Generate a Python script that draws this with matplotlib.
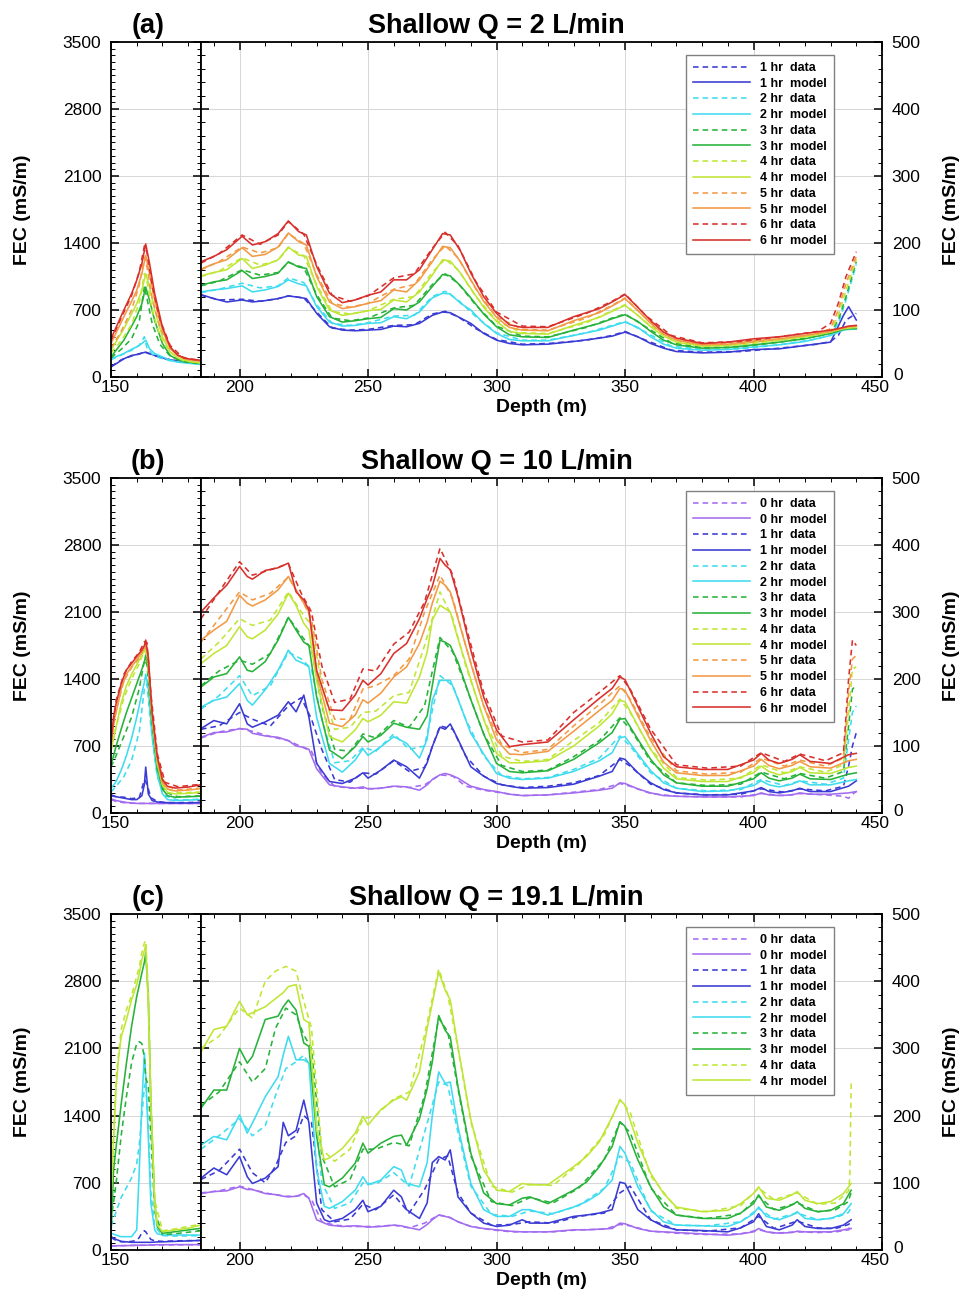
import matplotlib.pyplot as plt
from matplotlib.ticker import MultipleLocator, FixedLocator
from matplotlib.transforms import ScaledTranslation

plt.rcParams['font.family'] = ['Liberation Sans', 'DejaVu Sans']

# colour per elapsed time (hr)
hour_colors = {0: '#a36cf0', 1: '#3a3ad4', 2: '#3fdcef', 3: '#27b23a',
               4: '#bfe635', 5: '#f29a45', 6: '#d8302c'}

# ---------------- (a) Shallow Q = 2 L/min ----------------
a_hours = [1, 2, 3, 4, 5, 6]
a_depth_left = [150, 155, 158, 160, 162, 163.5, 165, 167, 170, 173, 176, 180, 185]
a_model_left = {
    1: [105, 190, 225, 235, 250, 260, 245, 225, 200, 180, 165, 155, 140],
    2: [190, 245, 290, 315, 350, 385, 295, 245, 210, 175, 155, 145, 130],
    3: [210, 385, 530, 630, 765, 940, 800, 590, 350, 225, 180, 155, 140],
    4: [280, 505, 660, 765, 905, 1080, 940, 700, 420, 260, 200, 165, 145],
    5: [350, 630, 790, 905, 1080, 1270, 1080, 800, 490, 295, 225, 180, 165],
    6: [400, 700, 870, 1010, 1185, 1390, 1185, 870, 520, 315, 225, 190, 175],
}
a_depth_left_data = [150, 154, 158, 161, 163, 164, 166, 169, 173, 178, 185]
a_data_left = {
    1: [110, 180, 220, 240, 262, 250, 235, 205, 180, 160, 142],
    2: [180, 230, 280, 330, 420, 300, 240, 200, 170, 150, 132],
    3: [200, 290, 400, 580, 950, 820, 560, 340, 220, 160, 140],
    4: [250, 380, 550, 780, 1080, 1000, 700, 430, 260, 170, 148],
    5: [300, 480, 700, 960, 1250, 1150, 820, 520, 300, 190, 165],
    6: [380, 620, 850, 1100, 1370, 1300, 950, 600, 330, 200, 172],
}
a_depth_right = [185, 190, 195, 201, 205, 210, 215, 219, 223, 226,
                 230, 235, 240, 245, 250, 255, 260, 265, 270, 275,
                 279, 282, 286, 290, 295, 300, 305, 310, 320, 330,
                 340, 345, 350, 355, 360, 365, 370, 380, 390, 400,
                 410, 420, 430, 435, 437, 440]
a_model_right = {
    1: [123, 117, 112, 115, 112, 114, 117, 121, 119, 117,
        95, 75, 70, 69, 70, 71, 76, 75, 80, 92,
        97, 96, 88, 80, 65, 55, 50, 48, 49, 53,
        58, 61, 67, 60, 50, 43, 38, 36, 37, 41,
        42, 47, 52, 92, 105, 85],
    2: [127, 130, 132, 136, 127, 130, 135, 145, 139, 136,
        105, 82, 76, 77, 80, 81, 90, 87, 97, 118,
        125, 124, 110, 100, 80, 65, 56, 54, 54, 62,
        70, 76, 82, 74, 60, 49, 43, 40, 41, 45,
        48, 53, 62, 70, 71, 72],
    3: [137, 142, 145, 159, 147, 150, 155, 172, 164, 162,
        120, 90, 82, 84, 87, 89, 102, 100, 112, 135,
        153, 151, 136, 118, 94, 75, 63, 60, 59, 70,
        80, 87, 93, 83, 68, 55, 48, 43, 44, 48,
        52, 57, 65, 71, 72, 72],
    4: [151, 156, 160, 177, 162, 167, 175, 194, 182, 180,
        135, 100, 92, 95, 99, 101, 115, 112, 127, 152,
        175, 173, 155, 132, 104, 83, 68, 65, 64, 77,
        89, 98, 107, 92, 75, 61, 52, 46, 47, 52,
        55, 60, 67, 72, 73, 74],
    5: [161, 169, 175, 193, 180, 183, 194, 215, 202, 197,
        150, 112, 102, 105, 110, 114, 130, 127, 145, 172,
        195, 193, 172, 145, 113, 89, 74, 70, 69, 84,
        96, 106, 117, 99, 80, 64, 55, 48, 49, 54,
        57, 62, 68, 73, 75, 76],
    6: [172, 180, 190, 210, 197, 202, 214, 233, 217, 212,
        165, 125, 111, 115, 122, 127, 145, 145, 160, 190,
        214, 212, 188, 155, 120, 95, 78, 74, 74, 90,
        102, 112, 123, 104, 84, 67, 58, 50, 52, 57,
        60, 65, 70, 74, 76, 77],
}
a_depth_right_data = [185, 192, 201, 208, 215, 219, 225, 230, 236, 243,
                      250, 260, 268, 275, 280, 285, 292, 300, 310, 320,
                      335, 345, 350, 358, 368, 380, 395, 410, 425, 430,
                      433, 436, 440]
a_data_right = {
    1: [122, 115, 116, 113, 117, 121, 118, 97, 73, 70,
        71, 77, 78, 94, 98, 90, 72, 56, 49, 50,
        55, 62, 68, 55, 40, 37, 38, 43, 49, 53,
        62, 85, 95],
    2: [126, 131, 140, 133, 136, 148, 141, 108, 80, 77,
        81, 91, 92, 120, 128, 115, 90, 66, 55, 55,
        66, 77, 83, 67, 46, 41, 42, 48, 57, 63,
        80, 115, 168],
    3: [136, 143, 160, 152, 156, 171, 163, 123, 88, 84,
        88, 103, 107, 138, 154, 140, 107, 76, 61, 60,
        74, 88, 94, 75, 51, 44, 45, 52, 61, 66,
        85, 120, 172],
    4: [150, 158, 178, 167, 174, 193, 181, 138, 98, 94,
        99, 116, 120, 156, 176, 160, 120, 84, 66, 65,
        81, 99, 108, 82, 56, 47, 48, 55, 63, 68,
        92, 130, 176],
    5: [160, 172, 194, 185, 193, 214, 199, 153, 110, 104,
        110, 131, 138, 175, 196, 178, 131, 90, 71, 70,
        88, 107, 118, 88, 59, 49, 50, 57, 65, 72,
        100, 140, 180],
    6: [170, 184, 212, 198, 212, 232, 213, 168, 122, 113,
        121, 148, 154, 192, 216, 196, 142, 97, 76, 75,
        95, 113, 124, 92, 62, 51, 53, 60, 68, 80,
        110, 150, 187],
}

# ---------------- (b) Shallow Q = 10 L/min ----------------
b_hours = [0, 1, 2, 3, 4, 5, 6]
b_depth_left = [150, 151, 152, 154, 156, 158, 160, 162, 163, 163.5,
                164.5, 166, 168, 170, 172, 175, 180, 185]
b_model_left = {
    0: [150, 140, 130, 120, 110, 105, 100, 100, 100, 100, 100, 100, 100, 100, 100, 100, 100, 100],
    1: [180, 175, 170, 160, 150, 140, 140, 180, 300, 480, 200, 130, 115, 110, 108, 105, 105, 110],
    2: [260, 290, 330, 450, 600, 780, 1000, 1250, 1370, 1450, 1300, 800, 400, 200, 140, 130, 135, 140],
    3: [500, 600, 700, 880, 1050, 1200, 1350, 1500, 1580, 1650, 1500, 950, 480, 250, 180, 165, 170, 175],
    4: [650, 780, 900, 1150, 1330, 1450, 1550, 1650, 1700, 1750, 1580, 990, 520, 290, 215, 200, 205, 215],
    5: [700, 950, 1050, 1300, 1450, 1530, 1600, 1680, 1730, 1780, 1600, 1020, 560, 320, 250, 230, 240, 255],
    6: [730, 1008, 1147, 1355, 1495, 1564, 1634, 1703, 1750, 1807, 1634, 1043, 591, 348, 278, 261, 271, 295],
}
b_depth_left_data = [150, 152, 155, 158, 161, 163, 164, 165.5, 168, 171, 176, 185]
b_data_left = {
    0: [140, 120, 108, 102, 100, 100, 100, 100, 100, 100, 100, 100],
    1: [190, 170, 165, 150, 160, 350, 300, 160, 120, 110, 108, 112],
    2: [220, 280, 380, 550, 850, 1300, 1350, 900, 380, 180, 135, 145],
    3: [480, 600, 800, 1000, 1300, 1600, 1550, 1050, 450, 220, 170, 180],
    4: [650, 900, 1200, 1400, 1560, 1700, 1650, 1150, 520, 260, 210, 220],
    5: [720, 1080, 1380, 1520, 1620, 1740, 1700, 1200, 580, 290, 240, 260],
    6: [760, 1180, 1450, 1580, 1680, 1790, 1780, 1250, 620, 320, 275, 300],
}
b_depth_right = [185, 190, 195, 200, 203, 205, 210, 215, 219, 222,
                 225, 227, 230, 235, 240, 245, 248, 250, 255, 260,
                 265, 270, 273, 275, 278, 280, 282, 285, 290, 295,
                 300, 305, 310, 320, 330, 340, 345, 348, 350, 355,
                 360, 365, 370, 380, 390, 400, 403, 406, 410, 415,
                 418, 422, 430, 437, 440]
b_model_right = {
    0: [113, 120, 121, 126, 125, 119, 115, 113, 108, 100,
        98, 95, 66, 42, 39, 37, 39, 36, 37, 40,
        39, 34, 42, 50, 57, 59, 57, 52, 40, 35,
        32, 28, 26, 27, 30, 34, 37, 45, 44, 36,
        30, 26, 25, 24, 24, 26, 30, 27, 26, 27,
        30, 28, 28, 30, 32],
    1: [126, 138, 133, 163, 133, 128, 136, 146, 166, 151,
        176, 143, 74, 47, 44, 52, 60, 52, 64, 79,
        69, 52, 75, 99, 128, 125, 133, 110, 69, 55,
        44, 40, 37, 38, 43, 55, 62, 82, 80, 60,
        45, 35, 30, 27, 27, 33, 38, 32, 30, 33,
        37, 32, 32, 40, 48],
    2: [158, 168, 173, 193, 168, 161, 184, 213, 243, 228,
        223, 218, 143, 74, 61, 79, 96, 86, 99, 114,
        104, 82, 110, 168, 198, 198, 198, 170, 119, 88,
        59, 52, 50, 52, 62, 78, 90, 112, 114, 88,
        63, 45, 37, 32, 33, 41, 48, 42, 39, 43,
        48, 42, 42, 48, 50],
    3: [188, 203, 208, 233, 213, 211, 226, 258, 292, 273,
        255, 250, 173, 94, 81, 99, 114, 106, 116, 134,
        128, 125, 145, 190, 258, 255, 250, 225, 169, 118,
        74, 62, 60, 63, 80, 105, 120, 140, 141, 110,
        80, 57, 45, 40, 40, 51, 60, 52, 48, 52,
        58, 51, 50, 58, 60],
    4: [223, 238, 250, 278, 263, 260, 273, 297, 328, 310,
        283, 273, 198, 114, 106, 124, 141, 136, 146, 166,
        164, 203, 240, 288, 310, 305, 300, 260, 199, 140,
        89, 75, 75, 78, 100, 130, 148, 168, 166, 130,
        95, 67, 51, 47, 47, 60, 70, 62, 57, 62,
        68, 60, 59, 68, 70],
    5: [258, 273, 286, 325, 313, 309, 318, 333, 353, 333,
        313, 300, 208, 134, 129, 146, 169, 164, 179, 203,
        218, 253, 285, 313, 346, 340, 330, 290, 223, 160,
        109, 88, 87, 92, 122, 153, 168, 186, 183, 145,
        108, 76, 60, 56, 56, 70, 80, 71, 66, 71,
        77, 69, 67, 78, 80],
    6: [300, 321, 340, 368, 353, 349, 362, 366, 373, 330,
        318, 303, 213, 154, 153, 176, 198, 191, 208, 238,
        253, 290, 320, 338, 380, 370, 363, 323, 243, 173,
        124, 99, 102, 106, 139, 171, 186, 203, 199, 159,
        119, 84, 69, 65, 65, 79, 89, 79, 74, 80,
        87, 77, 74, 87, 89],
}
b_depth_right_data = [185, 192, 200, 205, 212, 219, 224, 228, 232, 237,
                      243, 248, 253, 260, 266, 272, 278, 283, 288, 295,
                      302, 310, 320, 330, 340, 348, 352, 360, 370, 382,
                      395, 403, 412, 418, 428, 435, 437, 438.5, 440]
b_data_right = {
    0: [112, 121, 126, 122, 114, 108, 99, 92, 58, 40,
        37, 37, 36, 40, 38, 42, 57, 55, 40, 34,
        30, 26, 27, 31, 35, 44, 40, 29, 25, 24,
        24, 29, 26, 29, 27, 25, 22, 28, 32],
    1: [125, 130, 150, 140, 130, 160, 172, 140, 95, 50,
        46, 60, 58, 78, 62, 68, 130, 125, 85, 55,
        42, 38, 40, 45, 56, 80, 70, 43, 30, 27,
        28, 36, 31, 36, 33, 40, 70, 100, 120],
    2: [155, 175, 205, 175, 190, 240, 230, 215, 140, 75,
        78, 98, 92, 118, 95, 100, 205, 190, 140, 85,
        56, 51, 53, 65, 82, 115, 100, 60, 37, 33,
        35, 50, 41, 48, 43, 52, 110, 150, 160],
    3: [190, 212, 228, 222, 238, 292, 265, 245, 160, 95,
        92, 118, 112, 138, 128, 160, 262, 240, 190, 118,
        71, 62, 64, 84, 108, 142, 126, 77, 45, 41,
        43, 61, 51, 59, 52, 62, 130, 185, 190],
    4: [230, 255, 290, 280, 288, 330, 300, 280, 190, 125,
        128, 150, 152, 175, 180, 250, 330, 290, 220, 140,
        85, 77, 80, 108, 135, 170, 150, 95, 53, 49,
        52, 72, 60, 69, 61, 72, 150, 215, 218],
    5: [255, 290, 330, 318, 328, 352, 320, 290, 200, 140,
        140, 185, 190, 205, 230, 300, 355, 320, 250, 160,
        102, 90, 95, 130, 162, 190, 170, 112, 63, 58,
        61, 82, 70, 79, 70, 82, 180, 230, 235],
    6: [290, 330, 375, 355, 363, 372, 328, 300, 220, 165,
        170, 215, 212, 252, 270, 315, 395, 355, 280, 180,
        115, 106, 109, 150, 180, 205, 185, 125, 72, 67,
        70, 90, 77, 88, 78, 90, 200, 258, 250],
}

# ---------------- (c) Shallow Q = 19.1 L/min ----------------
c_hours = [0, 1, 2, 3, 4]
c_depth_left = [150, 151, 152, 153, 154, 156, 158, 160, 161, 162,
                163, 163.5, 164.5, 165.5, 167, 168, 170, 175, 180, 185]
c_model_left = {
    0: [40, 42, 44, 45, 45, 46, 48, 50, 50, 50, 50, 50, 52, 52, 54, 55, 55, 56, 56, 56],
    1: [140, 125, 110, 100, 90, 85, 80, 80, 80, 80, 80, 80, 80, 80, 82, 84, 85, 90, 95, 100],
    2: [174, 165, 155, 145, 139, 139, 139, 209, 834, 1530, 2050, 1807, 1182, 487, 209, 170, 156, 156, 156, 156],
    3: [150, 834, 1077, 1300, 1529, 1946, 2329, 2641, 2760, 2885, 3000, 3093, 2641, 1530, 487, 243, 174, 191, 209, 226],
    4: [500, 1150, 1700, 2016, 2224, 2398, 2607, 2763, 2880, 3024, 3120, 3180, 2572, 1530, 487, 261, 191, 209, 226, 261],
}
c_depth_left_data = [150, 152, 154, 156, 158, 160, 161, 162, 163, 163.5,
                     164.5, 165.5, 167, 170, 175, 185]
c_data_left = {
    0: [45, 44, 45, 46, 47, 48, 48, 49, 49, 50, 50, 51, 52, 53, 54, 55],
    1: [130, 100, 85, 85, 90, 100, 130, 180, 200, 190, 150, 110, 95, 90, 95, 100],
    2: [250, 400, 550, 650, 750, 900, 1100, 1400, 1700, 1750, 1300, 600, 250, 150, 145, 150],
    3: [300, 700, 1200, 1600, 1950, 2150, 2170, 2150, 2000, 1800, 1700, 1200, 400, 160, 170, 200],
    4: [600, 1800, 2300, 2500, 2650, 2850, 2950, 3100, 3200, 3220, 2700, 1600, 520, 200, 220, 270],
}
c_depth_right = [185, 190, 195, 200, 203, 205, 210, 215, 217, 219,
                 222, 225, 227, 230, 233, 235, 240, 245, 248, 250,
                 255, 260, 263, 265, 270, 273, 275, 277.5, 280, 282,
                 285, 290, 295, 300, 305, 310, 313, 320, 330, 335,
                 340, 345, 348, 350, 355, 360, 365, 370, 380, 390,
                 395, 400, 402, 405, 410, 415, 417, 420, 425, 430,
                 435, 438]
c_model_right = {
    0: [84, 87, 88, 94, 90, 90, 84, 82, 80, 79,
        80, 84, 77, 45, 40, 37, 35, 36, 35, 34,
        35, 37, 36, 34, 30, 38, 45, 52, 50, 48,
        42, 35, 32, 30, 28, 27, 27, 27, 30, 30,
        31, 32, 40, 39, 32, 28, 27, 26, 24, 22,
        24, 27, 32, 27, 25, 26, 28, 27, 27, 27,
        30, 32],
    1: [107, 122, 112, 139, 109, 99, 107, 124, 190, 170,
        178, 223, 189, 70, 45, 42, 47, 60, 74, 57,
        65, 89, 79, 60, 47, 70, 130, 139, 134, 149,
        79, 55, 40, 35, 37, 45, 40, 40, 50, 52,
        55, 60, 101, 99, 60, 45, 35, 30, 29, 27,
        33, 42, 54, 35, 30, 37, 45, 35, 32, 32,
        37, 45],
    2: [156, 169, 164, 201, 174, 189, 228, 258, 290, 318,
        283, 283, 278, 119, 65, 62, 72, 89, 109, 97,
        104, 124, 119, 99, 94, 130, 200, 265, 248, 250,
        183, 99, 60, 50, 50, 60, 60, 52, 64, 72,
        84, 104, 154, 144, 94, 60, 42, 37, 36, 35,
        42, 54, 64, 50, 45, 52, 57, 47, 45, 47,
        54, 69],
    3: [211, 238, 238, 300, 278, 288, 343, 348, 362, 372,
        357, 308, 303, 169, 97, 94, 107, 129, 159, 144,
        159, 169, 171, 156, 195, 240, 280, 349, 327, 317,
        243, 144, 85, 69, 67, 77, 79, 69, 89, 101,
        124, 154, 191, 184, 134, 94, 64, 52, 47, 47,
        55, 69, 82, 64, 59, 67, 72, 62, 57, 59,
        69, 89],
    4: [295, 328, 333, 370, 350, 353, 362, 377, 383, 392,
        395, 343, 338, 179, 134, 137, 151, 174, 199, 186,
        209, 223, 228, 223, 265, 330, 367, 414, 387, 372,
        302, 194, 119, 89, 87, 99, 97, 97, 124, 139,
        161, 198, 223, 216, 159, 114, 84, 64, 57, 59,
        69, 84, 94, 77, 74, 82, 87, 74, 69, 72,
        84, 99],
}
c_depth_right_data = [185, 192, 200, 205, 210, 214, 218, 222, 225, 228,
                      232, 237, 243, 248, 253, 260, 266, 272, 277.5, 281,
                      285, 290, 298, 306, 313, 322, 332, 342, 348, 352,
                      360, 370, 382, 395, 402, 408, 417, 425, 432, 437,
                      437.5, 438]
c_data_right = {
    0: [85, 88, 95, 90, 85, 82, 80, 80, 82, 75,
        42, 37, 35, 35, 35, 37, 33, 40, 52, 50,
        42, 35, 30, 27, 27, 27, 30, 31, 38, 36,
        28, 25, 23, 24, 30, 25, 27, 26, 27, 30,
        36, 38],
    1: [105, 118, 150, 115, 100, 125, 160, 170, 200, 190,
        60, 42, 46, 68, 60, 82, 55, 90, 135, 140,
        85, 55, 37, 38, 42, 40, 50, 55, 85, 95,
        45, 30, 28, 33, 50, 32, 43, 33, 32, 38,
        40, 42],
    2: [150, 170, 195, 170, 185, 230, 270, 280, 290, 270,
        100, 62, 70, 100, 98, 115, 95, 175, 250, 245,
        175, 95, 53, 50, 58, 54, 66, 92, 140, 130,
        58, 37, 36, 42, 62, 46, 55, 45, 48, 56,
        60, 65],
    3: [215, 235, 280, 250, 270, 330, 360, 350, 320, 300,
        140, 94, 105, 150, 150, 160, 155, 230, 345, 325,
        240, 140, 72, 66, 78, 70, 92, 135, 190, 175,
        92, 52, 47, 54, 80, 60, 70, 57, 60, 72,
        80, 85],
    4: [300, 318, 360, 345, 400, 415, 422, 415, 370, 330,
        150, 132, 150, 195, 200, 225, 235, 320, 418, 380,
        300, 190, 95, 86, 98, 96, 128, 172, 224, 205,
        110, 62, 57, 66, 92, 75, 85, 68, 70, 88,
        110, 248],
}

# ---------------- layout ----------------
FIG_W, FIG_H = 961, 1292
X0, XD, X1 = 111, 201, 882        # left edge, break at 185 m, right edge (px)
DASH = (0, (3.5, 2.5))
GRID = dict(color='#d6d6d6', lw=0.7)
LW = 1.15
DEPTH_TICKS = [200, 250, 300, 350, 400, 450]
RIGHT_TICKS = [0, 100, 200, 300, 400, 500]

fig = plt.figure(figsize=(FIG_W / 100, FIG_H / 100), dpi=100)


def nudge(label, dx_px, dy_px=0):
    label.set_transform(label.get_transform()
                        + ScaledTranslation(dx_px / 100, dy_px / 100, fig.dpi_scale_trans))


def draw_panel(top, bot, tag, title, hours, dl, ml, dld, dtl, dr, mr, drd, dtr):
    b = 1 - bot / FIG_H
    h = (bot - top) / FIG_H
    axl = fig.add_axes([X0 / FIG_W, b, (XD - X0) / FIG_W, h])
    axr = fig.add_axes([XD / FIG_W, b, (X1 - XD) / FIG_W, h])

    handles = []
    for hr in hours:
        c = hour_colors[hr]
        axl.plot(dld, dtl[hr], color=c, lw=LW, ls=DASH)
        axl.plot(dl, ml[hr], color=c, lw=LW)
        hd, = axr.plot(drd, dtr[hr], color=c, lw=LW, ls=DASH, label=f'{hr} hr  data')
        hm, = axr.plot(dr, mr[hr], color=c, lw=LW, label=f'{hr} hr  model')
        handles += [hd, hm]

    # shallow interval (left scale)
    axl.set_xlim(150, 185)
    axl.set_ylim(0, 3500)
    axl.xaxis.set_major_locator(FixedLocator([150]))
    axl.xaxis.set_minor_locator(FixedLocator([160, 170, 180]))
    axl.yaxis.set_major_locator(MultipleLocator(700))
    axl.yaxis.set_minor_locator(MultipleLocator(70))
    axl.tick_params(which='both', direction='in', top=True, right=True, labelsize=12.5)
    axl.tick_params(which='major', length=6, width=1.1)
    axl.tick_params(which='minor', length=3, width=0.7)
    axl.tick_params(axis='x', pad=2)
    axl.tick_params(axis='y', pad=7)
    axl.grid(True, which='major', axis='y', **GRID)

    # deeper interval (right scale)
    axr.set_xlim(185, 450)
    axr.set_ylim(0, 500)
    axr.xaxis.set_major_locator(FixedLocator(DEPTH_TICKS))
    axr.xaxis.set_minor_locator(MultipleLocator(10))
    axr.yaxis.set_major_locator(FixedLocator(RIGHT_TICKS))
    axr.yaxis.set_minor_locator(MultipleLocator(20))
    axr.tick_params(which='both', direction='in', top=True, left=True, right=True,
                    labelleft=False, labelright=True, labelsize=12.5)
    axr.tick_params(which='major', length=6, width=1.1)
    axr.tick_params(which='minor', length=3, width=0.7)
    axr.tick_params(axis='x', pad=2)
    axr.tick_params(axis='y', pad=7)
    axr.grid(True, which='major', **GRID)

    for ax in (axl, axr):
        for s in ax.spines.values():
            s.set_linewidth(1.3)

    # keep corner labels from running into each other
    fig.canvas.draw()
    nudge(axl.get_xticklabels()[0], 4)
    nudge(axr.get_xticklabels()[-1], -7)
    for lab in axr.get_yticklabels():
        if lab.get_position()[1] == 0:
            nudge(lab, 2, 3)

    leg = axr.legend(handles=handles, loc='upper right',
                     bbox_to_anchor=((834 - XD) / (X1 - XD), 1 - 13 / (bot - top)),
                     borderaxespad=0,
                     prop=dict(weight='bold', size=9), handlelength=4.6,
                     labelspacing=0.3, handletextpad=0.8, borderpad=0.55,
                     fancybox=False, framealpha=1, edgecolor='#808080')
    leg.get_frame().set_linewidth(1.0)

    ymid = 1 - (top + bot) / 2 / FIG_H
    fig.text(496.5 / FIG_W, 1 - (top - 9) / FIG_H, title, ha='center', va='baseline',
             fontsize=19.5, weight='bold')
    fig.text(148 / FIG_W, 1 - (top - 9) / FIG_H, tag, ha='center', va='baseline',
             fontsize=19.5, weight='bold')
    fig.text(23 / FIG_W, ymid, 'FEC (mS/m)', rotation=90, ha='center', va='center',
             fontsize=14, weight='bold')
    fig.text(952 / FIG_W, ymid, 'FEC (mS/m)', rotation=90, ha='center', va='center',
             fontsize=14, weight='bold')
    fig.text(541.5 / FIG_W, 1 - (bot + 35) / FIG_H, 'Depth (m)', ha='center', va='baseline',
             fontsize=14, weight='bold')


draw_panel(42, 377, '(a)', 'Shallow Q = 2 L/min', a_hours,
           a_depth_left, a_model_left, a_depth_left_data, a_data_left,
           a_depth_right, a_model_right, a_depth_right_data, a_data_right)
draw_panel(478, 813, '(b)', 'Shallow Q = 10 L/min', b_hours,
           b_depth_left, b_model_left, b_depth_left_data, b_data_left,
           b_depth_right, b_model_right, b_depth_right_data, b_data_right)
draw_panel(914, 1250, '(c)', 'Shallow Q = 19.1 L/min', c_hours,
           c_depth_left, c_model_left, c_depth_left_data, c_data_left,
           c_depth_right, c_model_right, c_depth_right_data, c_data_right)

fig.savefig('out.png', dpi=100)
